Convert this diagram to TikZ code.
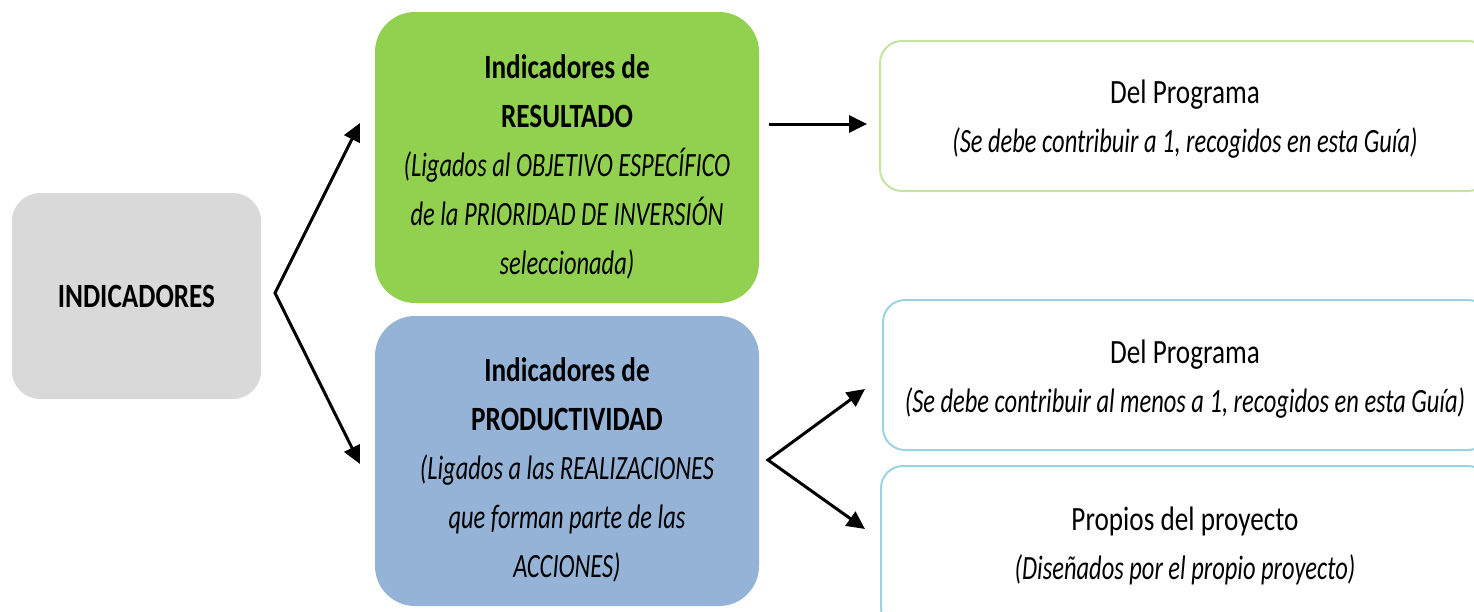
\documentclass[tikz,border=0pt]{standalone}
\usepackage{fontspec}
\setmainfont{Carlito}[FakeStretch=0.8, ItalicFeatures={FakeStretch=0.72}, BoldItalicFeatures={FakeStretch=0.72}]
\usetikzlibrary{arrows.meta}
\definecolor{graybox}{HTML}{D9D9D9}
\definecolor{greenbox}{HTML}{92D050}
\definecolor{bluebox}{HTML}{95B3D7}
\definecolor{greenline}{HTML}{C4E4A0}
\definecolor{blueline}{HTML}{9CD3E0}
\tikzset{
  box/.style={rectangle, draw=none, inner sep=0pt},
  outbox/.style={rectangle, draw, line width=2pt, rounded corners=22pt, fill=white, inner sep=0pt},
  txt/.style={align=center, inner sep=0pt, font=\fontsize{34}{49}\selectfont},
  arr/.style={line width=3pt, -{Triangle[length=18pt,width=17pt]}},
  arrboth/.style={line width=3pt, line join=miter, {Triangle[length=18pt,width=17pt]}-{Triangle[length=18pt,width=17pt]}}
}
\begin{document}
\begin{tikzpicture}[x=1pt,y=-1pt]
\useasboundingbox (0,0) rectangle (1474,611);
% left box
\node[box, fill=graybox, rounded corners=28pt, minimum width=249pt, minimum height=206pt,
  font=\fontsize{34}{49}\selectfont\bfseries] (ind) at (136.5,296) {INDICADORES};
% green box
\node[box, fill=greenbox, rounded corners=40pt, minimum width=384pt, minimum height=291pt] (res) at (567,157.5) {};
\node[txt] (restxt) at (567,167) {\textbf{Indicadores de}\\\textbf{RESULTADO}\\\textit{(Ligados al OBJETIVO ESPECÍFICO}\\\textit{de la PRIORIDAD DE INVERSIÓN}\\\textit{seleccionada)}};
% blue box
\node[box, fill=bluebox, rounded corners=40pt, minimum width=384pt, minimum height=290pt] (prod) at (567,461) {};
\node[txt] (prodtxt) at (567,470) {\textbf{Indicadores de}\\\textbf{PRODUCTIVIDAD}\\\textit{(Ligados a las REALIZACIONES}\\\textit{que forman parte de las}\\\textit{ACCIONES)}};
% right boxes
\node[outbox, draw=greenline, minimum width=610pt, minimum height=150pt] (r1) at (1185,116) {};
\node[txt] (r1txt) at (1185,119) {Del Programa\\\textit{(Se debe contribuir a 1, recogidos en esta Guía)}};
\node[outbox, draw=blueline, minimum width=607pt, minimum height=150pt] (r2) at (1186.5,375) {};
\node[txt] (r2txt) at (1185,379) {Del Programa\\\textit{(Se debe contribuir al menos a 1, recogidos en esta Guía)}};
\node[outbox, draw=blueline, minimum width=609pt, minimum height=164pt] (r3) at (1185.5,548) {};
\node[txt] (r3txt) at (1185,546) {Propios del proyecto\\\textit{(Diseñados por el propio proyecto)}};
% connectors
\coordinate (f1) at (275,293);
\coordinate (t1) at (360,123);
\coordinate (t2) at (360,464);
\coordinate (h0) at (769,124);
\coordinate (h1) at (867,124);
\coordinate (f2) at (768,460);
\coordinate (t3) at (865,389);
\coordinate (t4) at (865,529);
\draw[arrboth] (t1) -- (f1) -- (t2);
\draw[arr] (h0) -- (h1);
\draw[arrboth] (t3) -- (f2) -- (t4);
\end{tikzpicture}
\end{document}
